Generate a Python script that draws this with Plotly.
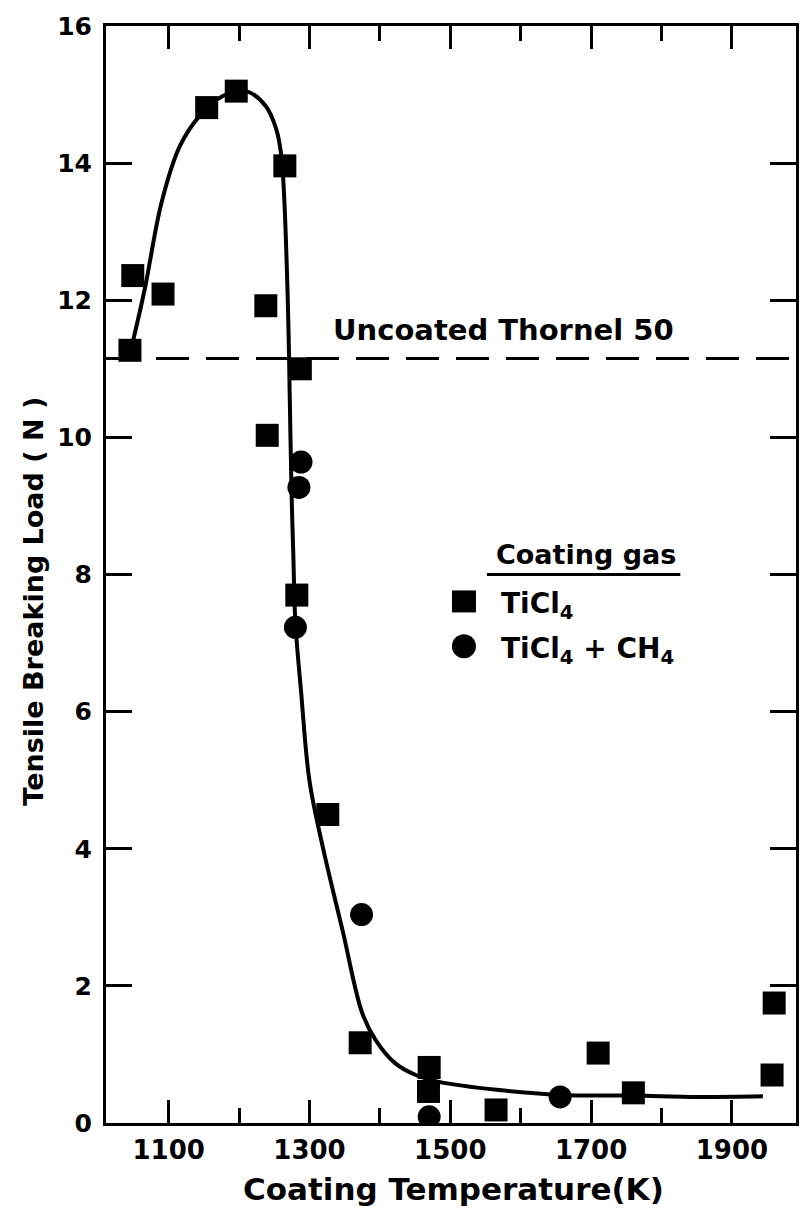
import plotly.graph_objects as go

# ---- data ----
ticl4_temp = [1045, 1049, 1092, 1154, 1196, 1265, 1238, 1287, 1240, 1282,
              1326, 1372, 1470, 1469, 1565, 1710, 1760, 1960, 1957]
ticl4_load = [11.27, 12.36, 12.09, 14.81, 15.05, 13.96, 11.92, 11.00, 10.03, 7.70,
              4.50, 1.17, 0.81, 0.46, 0.19, 1.02, 0.44, 1.75, 0.70]

ch4_temp = [1288, 1285, 1280, 1374, 1470, 1656]
ch4_load = [9.64, 9.27, 7.23, 3.04, 0.09, 0.38]

curve_temp = [1049, 1066, 1090, 1116, 1144, 1177, 1210, 1238, 1253, 1260, 1264,
              1269, 1271, 1273, 1275, 1277, 1280, 1288, 1300, 1319, 1347, 1375,
              1394, 1422, 1451, 1484, 1569, 1656, 1760, 1850, 1944]
curve_load = [11.39, 12.16, 13.43, 14.25, 14.69, 14.98, 15.05, 14.83, 14.49, 14.11, 13.52,
              12.07, 11.15, 10.0, 9.0, 8.3, 7.3, 6.3, 4.99, 4.02, 2.81, 1.60,
              1.21, 0.87, 0.70, 0.60, 0.48, 0.41, 0.40, 0.38, 0.39]

uncoated_load = 11.15
x_ticks = [1100, 1300, 1500, 1700, 1900]
x_minor = [1200, 1400, 1600, 1800]
y_ticks = [0, 2, 4, 6, 8, 10, 12, 14, 16]

FONT = "DejaVu Sans"
BLACK = "#000000"

# plot-area geometry (pixels)
L, R, T, B = 106, 798, 23, 1123
W, H = 811, 1218

fig = go.Figure()

fig.add_trace(go.Scatter(x=curve_temp, y=curve_load, mode="lines",
                         line=dict(color=BLACK, width=4, shape="spline", smoothing=1.0),
                         showlegend=False, hoverinfo="skip"))
fig.add_trace(go.Scatter(x=ticl4_temp, y=ticl4_load, mode="markers", name="TiCl4",
                         marker=dict(symbol="square", size=23, color=BLACK),
                         showlegend=False))
fig.add_trace(go.Scatter(x=ch4_temp, y=ch4_load, mode="markers", name="TiCl4 + CH4",
                         marker=dict(symbol="circle", size=23, color=BLACK),
                         showlegend=False))

fig.add_hline(y=uncoated_load, line=dict(color=BLACK, width=3, dash="33px,17px"))

axis_common = dict(showline=True, linecolor=BLACK, linewidth=3, mirror="ticks",
                   ticks="inside", tickcolor=BLACK, tickwidth=3,
                   showgrid=False, zeroline=False)

fig.update_xaxes(range=[1011, 1991], tickvals=x_ticks, ticktext=[str(v) for v in x_ticks],
                 ticklen=23, ticklabelstandoff=2,
                 tickfont=dict(family=FONT, size=26, color=BLACK, weight="bold"),
                 minor=dict(tickvals=x_minor, ticks="inside", ticklen=15,
                            tickwidth=3, tickcolor=BLACK),
                 **axis_common)
fig.update_yaxes(range=[0, 16], tickvals=y_ticks, ticklen=26, ticklabelstandoff=6,
                 tickfont=dict(family=FONT, size=25, color=BLACK, weight="bold"),
                 **axis_common)

def px2paper_x(px):
    return (px - L) / float(R - L)

def px2paper_y(py):
    return (B - py) / float(B - T)

annots = [
    dict(text="Tensile Breaking Load ( N )", x=px2paper_x(33), y=px2paper_y(600),
         xanchor="center", yanchor="middle", textangle=-90, font=dict(size=27)),
    dict(text="Coating Temperature(K)", x=px2paper_x(455), y=px2paper_y(1189),
         xanchor="center", yanchor="middle", font=dict(size=31)),
    dict(text="Uncoated Thornel 50", x=px2paper_x(505), y=px2paper_y(328),
         xanchor="center", yanchor="middle", font=dict(size=29)),
    dict(text="Coating gas", x=px2paper_x(587), y=px2paper_y(553),
         xanchor="center", yanchor="middle", font=dict(size=27)),
    dict(text="TiCl<sub>4</sub>", x=px2paper_x(500), y=px2paper_y(604),
         xanchor="left", yanchor="middle", font=dict(size=28)),
    dict(text="TiCl<sub>4</sub> + CH<sub>4</sub>", x=px2paper_x(500), y=px2paper_y(649),
         xanchor="left", yanchor="middle", font=dict(size=28)),
]
for a in annots:
    a["font"].update(family=FONT, color=BLACK, weight="bold")
    fig.add_annotation(xref="paper", yref="paper", showarrow=False, **a)

# legend underline and keys
fig.add_shape(type="line", xref="paper", yref="paper",
              x0=px2paper_x(488), x1=px2paper_x(682), y0=px2paper_y(573), y1=px2paper_y(573),
              line=dict(color=BLACK, width=3))
fig.add_shape(type="rect", xref="paper", yref="paper", xsizemode="pixel", ysizemode="pixel",
              xanchor=px2paper_x(465), yanchor=px2paper_y(600),
              x0=-12, x1=12, y0=-11, y1=11, fillcolor=BLACK, line=dict(width=0))
fig.add_shape(type="circle", xref="paper", yref="paper", xsizemode="pixel", ysizemode="pixel",
              xanchor=px2paper_x(465), yanchor=px2paper_y(645),
              x0=-12, x1=12, y0=-12, y1=12, fillcolor=BLACK, line=dict(width=0))

fig.update_layout(width=W, height=H,
                  margin=dict(l=L, r=W - R, t=T, b=H - B),
                  paper_bgcolor="white", plot_bgcolor="white",
                  showlegend=False)

fig.write_html("out.html")
